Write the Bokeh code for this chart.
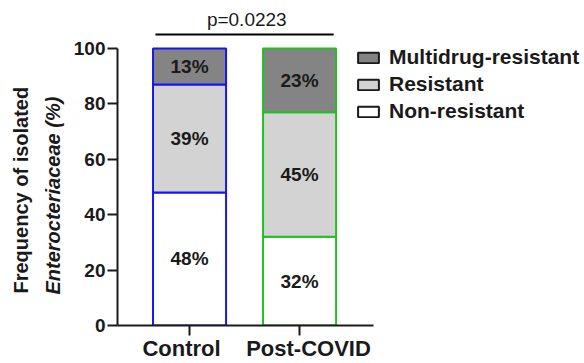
from bokeh.plotting import figure
from bokeh.models import (ColumnDataSource, Range1d, FixedTicker, Legend, LegendItem, Title,
                          LinearAxis, CustomLabelingPolicy)
from bokeh.core.properties import value
from bokeh.embed import file_html
from bokeh.resources import INLINE

# ---- data ----
categories = ["Control", "Post-COVID"]
non_resistant = [48, 32]
resistant = [39, 45]
multidrug = [13, 23]
series_names = ["Non-resistant", "Resistant", "Multidrug-resistant"]
series_colors = ["#ffffff", "#d3d3d3", "#848484"]
edge_colors = ["#1515f0", "#22c022"]
y_ticks = [0, 20, 40, 60, 80, 100]
p_value_text = "p=0.0223"
y_title_1 = "Frequency of isolated"
y_title_2 = "Enterocteriaceae (%)"

FONT = "Liberation Sans"
xs = list(range(len(categories)))

src = ColumnDataSource(dict(x=xs, edge=edge_colors,
                            **{"Non-resistant": non_resistant,
                               "Resistant": resistant,
                               "Multidrug-resistant": multidrug}))

X0 = -0.655
p = figure(width=584, height=363, output_backend="svg", toolbar_location=None, title=None,
           x_range=Range1d(X0, 3.59), y_range=Range1d(0, 114.4),
           min_border_left=117, min_border_right=0, min_border_top=8, min_border_bottom=36)
p.outline_line_color = None
p.grid.visible = False
p.background_fill_color = "white"

p.vbar_stack(series_names, x="x", width=0.664, source=src,
             fill_color=series_colors, line_color="edge", line_width=2)

# percentage labels
lab_x, lab_y, lab_t = [], [], []
for i in xs:
    base = 0
    for vals in (non_resistant, resistant, multidrug):
        v = vals[i]
        lab_x.append(i)
        lab_y.append(base + v / 2)
        lab_t.append(f"{v}%")
        base += v
p.text(x=lab_x, y=lab_y, text=lab_t, text_align="center", text_baseline="middle",
       text_font=value(FONT), text_font_style="bold", text_font_size="19px",
       text_color="#1a1a1a")

# significance bar
p.segment(x0=[xs[0] - 0.31], y0=[105], x1=[xs[1] + 0.31], y1=[105],
          line_color="black", line_width=2)
p.text(x=[(xs[0] + xs[1]) / 2 + 0.02], y=[110.4], text=[p_value_text], text_align="center",
       text_baseline="middle", text_font=value(FONT), text_font_size="19px",
       text_color="#1a1a1a")

# axes
for ax in (p.xaxis, p.yaxis):
    ax.axis_line_width = 2
    ax.axis_line_color = "#1a1a1a"
    ax.major_tick_line_width = 2
    ax.major_tick_line_color = "#1a1a1a"
    ax.major_tick_out = 10
    ax.major_tick_in = 0
    ax.minor_tick_line_color = None
    ax.major_label_text_font = FONT
    ax.major_label_text_font_style = "bold"
    ax.major_label_text_color = "#1a1a1a"

# main x axis: line + ticks only (its own labels are suppressed)
p.xaxis.ticker = FixedTicker(ticks=xs)
p.xaxis.bounds = (X0, 1.67)
p.xaxis.major_label_standoff = 0
p.xaxis.major_label_text_font_size = "1px"
p.xaxis.major_label_policy = CustomLabelingPolicy(
    code="for (const i of Array.from(indices)) indices.unset(i); return indices")

# category labels on a companion axis (labels sit slightly spread, as in the original)
p.extra_x_ranges = {"labels": Range1d(-0.504, 3.173)}
lab_axis = LinearAxis(x_range_name="labels", ticker=FixedTicker(ticks=xs),
                      major_label_overrides={i: c for i, c in zip(xs, categories)},
                      axis_line_color=None, major_tick_line_color=None,
                      minor_tick_line_color=None, major_tick_out=0, major_tick_in=0,
                      major_label_standoff=-4, major_label_text_font=FONT,
                      major_label_text_font_style="bold", major_label_text_font_size="22px",
                      major_label_text_color="#1a1a1a")
p.add_layout(lab_axis, "below")

p.yaxis.ticker = FixedTicker(ticks=y_ticks)
p.yaxis.bounds = (0, 100)
p.yaxis.major_label_standoff = 2
p.yaxis.major_label_text_font_size = "19px"

# y-axis title as two stacked side titles
t2 = Title(text=y_title_2, align="left", offset=31, standoff=14,
           text_font=FONT, text_font_size="20px", text_font_style="bold italic",
           text_color="#1a1a1a")
t1 = Title(text=y_title_1, align="left", offset=32, standoff=2,
           text_font=FONT, text_font_size="20px", text_font_style="bold",
           text_color="#1a1a1a")
p.add_layout(t2, "left")
p.add_layout(t1, "left")

# legend (hidden proxy renderers with black outlines)
items = []
for name, col in zip(series_names, series_colors):
    r = p.vbar(x="x", top=name, width=0.5, source=src, fill_color=col,
               line_color="#1a1a1a", line_width=2, visible=False)
    items.append(LegendItem(label=name, renderers=[r]))
legend = Legend(items=items[::-1], location=(238, 202), padding=0, margin=0,
                border_line_color=None, background_fill_alpha=0,
                glyph_width=26, glyph_height=13, label_height=22, spacing=3,
                label_standoff=8, label_text_font=FONT, label_text_font_style="bold",
                label_text_font_size="21px", label_text_color="#1a1a1a")
p.add_layout(legend)

open("out.html", "w").write(file_html(p, INLINE))
